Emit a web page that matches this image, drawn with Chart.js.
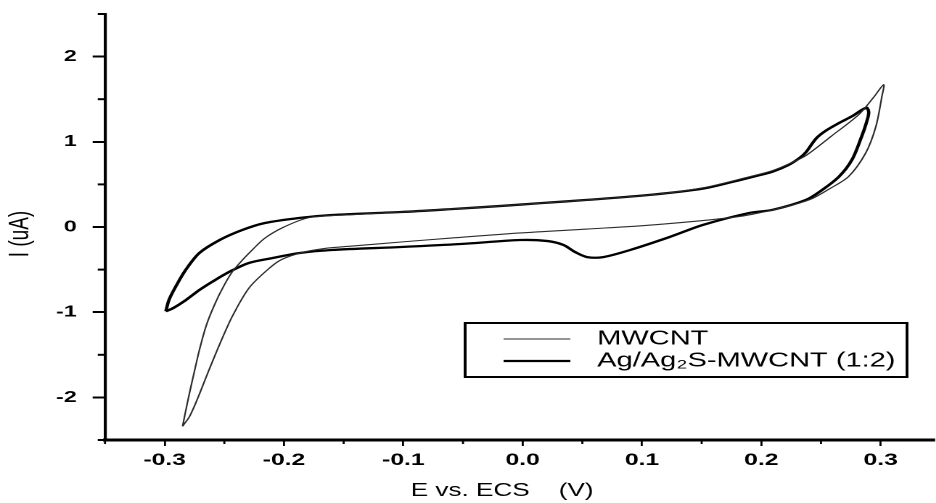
<!DOCTYPE html>
<html>
<head>
<meta charset="utf-8">
<script src="https://cdn.jsdelivr.net/npm/chart.js@4.4.1/dist/chart.umd.min.js"></script>
<style>
  html, body { margin: 0; padding: 0; background: #fff; overflow: hidden; }
  /* the plot is laid out narrow and widened horizontally, giving the wide lettering */
  #wrap { position: absolute; left: 0; top: 0; width: 645px; height: 503px;
          transform: scaleX(1.4512); transform-origin: 0 0; }
</style>
</head>
<body>
<div id="wrap"><canvas id="cv"></canvas></div>
<script>
// Cyclic voltammograms: potential E (V vs. ECS) and current I (uA)
const mwcntE = [-0.285,-0.283,-0.28,-0.276,-0.271,-0.265,-0.2575,-0.25,-0.243,-0.235,-0.226,-0.216,-0.2,-0.179,-0.143,-0.102,-0.06,-0.018,0.015,0.054,0.109,0.151,0.19,0.209,0.223,0.2375,0.259,0.2817,0.294,0.3025,0.301,0.296,0.2875,0.273,0.257,0.24,0.209,0.179,0.109,0.054,-0.002,-0.06,-0.102,-0.143,-0.165,-0.185,-0.2017,-0.212,-0.229,-0.243,-0.254,-0.2635,-0.272,-0.279,-0.284,-0.285];
const mwcntI = [-2.34,-2.2,-2.0,-1.75,-1.45,-1.15,-0.89,-0.68,-0.52,-0.39,-0.26,-0.13,0.0,0.11,0.145,0.176,0.21,0.247,0.28,0.318,0.38,0.46,0.59,0.66,0.74,0.84,1.07,1.32,1.52,1.67,1.53,1.18,0.87,0.59,0.447,0.318,0.2,0.118,0.024,-0.024,-0.07,-0.13,-0.176,-0.224,-0.25,-0.3,-0.38,-0.48,-0.71,-1.04,-1.38,-1.7,-2.0,-2.22,-2.32,-2.34];

const agE = [-0.299,-0.2965,-0.291,-0.2825,-0.271,-0.254,-0.235,-0.216,-0.1875,-0.16,-0.102,-0.06,-0.018,0.015,0.054,0.109,0.151,0.176,0.196,0.209,0.223,0.232,0.2375,0.246,0.254,0.265,0.276,0.288,0.29,0.2875,0.284,0.276,0.265,0.251,0.2375,0.209,0.19,0.151,0.123,0.09,0.0675,0.054,0.044,0.034,0.021,-0.002,-0.052,-0.102,-0.16,-0.1875,-0.21,-0.229,-0.243,-0.2575,-0.271,-0.2825,-0.293,-0.299];
const agI = [-0.99,-0.86,-0.706,-0.506,-0.306,-0.153,-0.035,0.047,0.106,0.141,0.176,0.21,0.247,0.28,0.318,0.38,0.45,0.53,0.6,0.647,0.73,0.81,0.88,1.04,1.13,1.22,1.3,1.4,1.34,1.2,1.06,0.79,0.59,0.435,0.318,0.2,0.165,0.024,-0.118,-0.27,-0.353,-0.353,-0.294,-0.21,-0.165,-0.153,-0.2,-0.235,-0.27,-0.306,-0.365,-0.42,-0.506,-0.62,-0.74,-0.86,-0.953,-0.99];

const seriesNames = ['MWCNT', 'Ag/Ag\u2082S-MWCNT (1:2)'];
const xMajorTicks = [-0.3,-0.2,-0.1,0.0,0.1,0.2,0.3];
const xMinorTicks = [-0.35,-0.25,-0.15,-0.05,0.05,0.15,0.25];
const yMajorTicks = [-2,-1,0,1,2];
const yMinorTicks = [-2.5,-1.5,-0.5,0.5,1.5,2.5];
const xTitle = 'E vs. ECS    (V)';
const yTitle = 'I (uA)';

const FONT = '"Liberation Sans", Arial, sans-serif';
const toPoints = (xs, ys) => xs.map((x, i) => ({ x, y: ys[i] }));

// minor ticks, axis titles and the framed legend
const decorations = {
  id: 'decorations',
  afterDraw(chart) {
    const { ctx, chartArea, scales } = chart;
    ctx.save();
    ctx.strokeStyle = '#000';
    ctx.lineWidth = 1.4;
    xMinorTicks.forEach(v => {
      const px = scales.x.getPixelForValue(v);
      ctx.beginPath(); ctx.moveTo(px, chartArea.bottom); ctx.lineTo(px, chartArea.bottom + 4); ctx.stroke();
    });
    ctx.lineWidth = 2;
    yMinorTicks.forEach(v => {
      const py = scales.y.getPixelForValue(v);
      ctx.beginPath(); ctx.moveTo(chartArea.left - 5, py); ctx.lineTo(chartArea.left, py); ctx.stroke();
    });

    ctx.fillStyle = '#000';
    ctx.font = '18px ' + FONT;
    ctx.textAlign = 'center';
    ctx.textBaseline = 'middle';
    ctx.fillText(xTitle, 346, 491);
    ctx.save();
    ctx.translate(14.5, 234);
    ctx.rotate(-Math.PI / 2);
    ctx.font = '19px ' + FONT;
    ctx.fillText(yTitle, 0, 0);
    ctx.restore();

    // legend frame
    ctx.lineWidth = 2;
    ctx.strokeRect(320.5, 323, 304.5, 54);
    const rows = [339, 361];
    chart.data.datasets.forEach((d, i) => {
      ctx.strokeStyle = d.borderColor;
      ctx.lineWidth = d.borderWidth;
      ctx.beginPath(); ctx.moveTo(347, rows[i]); ctx.lineTo(393, rows[i]); ctx.stroke();
      ctx.fillStyle = '#000';
      ctx.textAlign = 'left';
      ctx.font = '20px ' + FONT;
      ctx.fillText(d.label, 411.5, rows[i]);
    });
    ctx.restore();
  }
};

new Chart(document.getElementById('cv'), {
  type: 'scatter',
  data: {
    datasets: [
      { label: seriesNames[0], data: toPoints(mwcntE, mwcntI), showLine: true,
        borderColor: '#2a2a2a', borderWidth: 1.1, pointRadius: 0, tension: 0.3, fill: false },
      { label: seriesNames[1], data: toPoints(agE, agI), showLine: true,
        borderColor: '#000', borderWidth: 2.3, pointRadius: 0, tension: 0.3, fill: false }
    ]
  },
  options: {
    responsive: true,
    maintainAspectRatio: false,
    devicePixelRatio: 2,
    animation: false,
    layout: { padding: { top: 14, left: 0, right: 0, bottom: 0 } },
    plugins: { legend: { display: false }, tooltip: { enabled: false } },
    scales: {
      x: {
        type: 'linear', min: -0.35, max: 0.345,
        afterBuildTicks: s => { s.ticks = xMajorTicks.map(v => ({ value: v })); },
        afterFit: s => { s.height = 63; s.paddingLeft = 0; s.paddingRight = 0; },
        ticks: { color: '#000', font: { family: FONT, size: 17, weight: 'bold' }, padding: 4,
                 maxRotation: 0, callback: v => Number(v).toFixed(1) },
        grid: { display: true, drawOnChartArea: false, drawTicks: true, tickLength: 6,
                color: '#000', lineWidth: 1.4 },
        border: { display: true, color: '#000', width: 3 }
      },
      y: {
        type: 'linear', min: -2.5, max: 2.5,
        afterBuildTicks: s => { s.ticks = yMajorTicks.map(v => ({ value: v })); },
        afterFit: s => { s.width = 72.35; s.paddingTop = 0; s.paddingBottom = 0; },
        ticks: { color: '#000', font: { family: FONT, size: 16, weight: 'bold' }, padding: 11,
                 callback: v => String(v) },
        grid: { display: true, drawOnChartArea: false, drawTicks: true, tickLength: 8.5,
                color: '#000', lineWidth: 2 },
        border: { display: true, color: '#000', width: 2.1 }
      }
    }
  },
  plugins: [decorations]
});
</script>
</body>
</html>
